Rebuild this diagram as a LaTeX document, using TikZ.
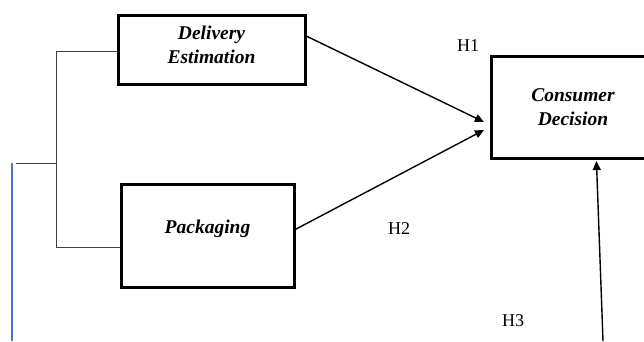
\documentclass[tikz,border=0pt]{standalone}
\usepackage{fontspec}
\setmainfont{Liberation Serif}
\usetikzlibrary{arrows.meta, positioning}

\definecolor{linkblue}{RGB}{68,114,196}

\begin{document}
\begin{tikzpicture}[x=1pt, y=-1pt,
    varbox/.style = {draw, line width=3pt, align=center,
        font=\fontsize{19.5}{23.5}\selectfont\bfseries\itshape},
    hpath/.style = {-{Triangle[length=9pt, width=8pt]}, line width=1.4pt},
    bracket/.style = {draw=black!75, line width=1pt},
    hyp/.style = {font=\fontsize{18}{20}\selectfont}]
    \clip (0,0) rectangle (644,341);
    % variables
    \node [varbox, minimum width=187pt, minimum height=69pt] (deliv) at (211.5,49.5) {Delivery\\Estimation\\[-14pt]};
    \node [varbox, minimum width=173pt, minimum height=103pt, text depth=18pt] (pack) at (207.5,235.5) {Packaging};
    \node [varbox, minimum width=164pt, minimum height=102pt] (cons) at (573,107) {Consumer\\Decision};
    % hypotheses
    \coordinate (h1end) at (484,122);
    \coordinate (h2end) at (484,130);
    \coordinate (h3start) at (603,341);
    \draw [hpath] (deliv.8) -- (h1end);
    \draw [hpath] (pack.4) -- (h2end);
    \draw [hpath, shorten >= 1.5pt] (h3start) -- (cons.-66);
    \node [hyp] (h1) at (468,46) {H1};
    \node [hyp] (h2) at (399,229) {H2};
    \node [hyp] (h3) at (513,321) {H3};
    % bracket on the left
    \coordinate (brtop) at (56,51);
    \coordinate (brbot) at (56,247);
    \coordinate (brmid) at (56,163);
    \coordinate (brout) at (16,163);
    \draw [bracket] (brtop -| deliv.west) -- (brtop) -- (brbot) -- (brbot -| pack.west);
    \draw [bracket] (brmid) -- (brout);
    \coordinate (bltop) at (12,163);
    \coordinate (blbot) at (12,341);
    \draw [linkblue, line width=1.2pt] (bltop) -- (blbot);
\end{tikzpicture}
\end{document}
